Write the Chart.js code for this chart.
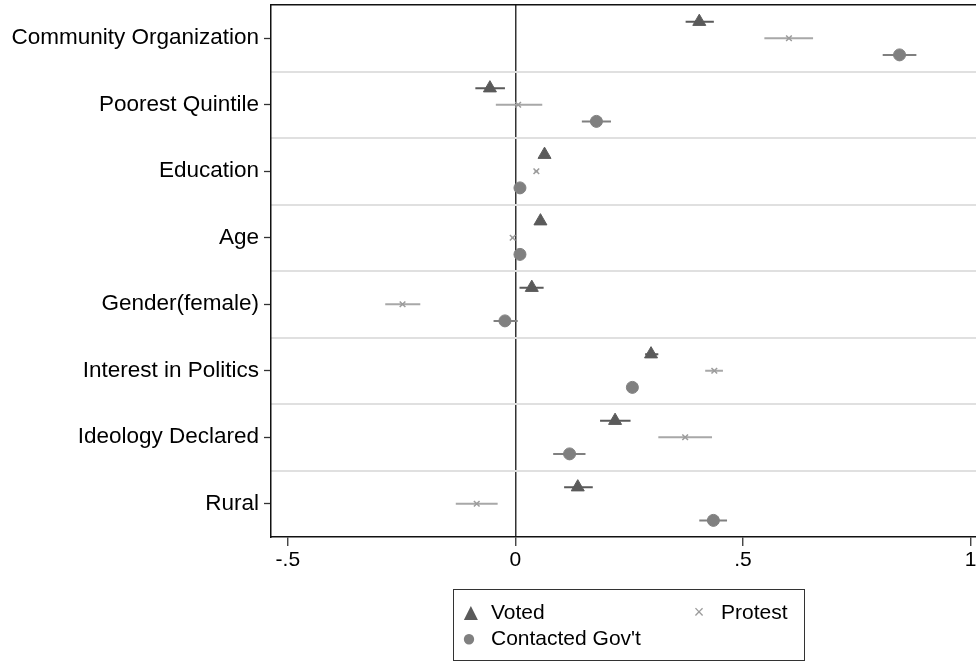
<!DOCTYPE html>
<html>
<head>
<meta charset="utf-8">
<script src="https://cdn.jsdelivr.net/npm/chart.js@4.4.1/dist/chart.umd.min.js"></script>
<style>
  html, body { margin: 0; padding: 0; background: #fff; }
  #wrap { position: relative; width: 976px; height: 664px; }
  #legend {
    position: absolute; left: 453px; top: 589px; width: 352px; height: 72px;
    border: 1px solid #333; box-sizing: border-box;
    font-family: "Liberation Sans", Arial, Helvetica, sans-serif; font-size: 21px; color: #000;
  }
  #legend .item { position: absolute; white-space: nowrap; line-height: 24px; }
  #legend .sym { display: inline-block; width: 20px; text-align: center; margin-right: 12px; vertical-align: top; }
</style>
</head>
<body>
<div id="wrap">
  <canvas id="coefplot" width="976" height="664"></canvas>
  <div id="legend"></div>
</div>
<script>
var categories = ["Community Organization", "Poorest Quintile", "Education", "Age",
	"Gender(female)", "Interest in Politics", "Ideology Declared", "Rural"];

// Voted
var votedCoef = [0.404, -0.056, 0.064, 0.055, 0.036, 0.298, 0.219, 0.137];
var votedLo   = [0.374, -0.088, 0.060, 0.052, 0.009, 0.285, 0.186, 0.107];
var votedHi   = [0.436, -0.023, 0.068, 0.058, 0.062, 0.314, 0.253, 0.170];

// Protest
var protestCoef = [0.601, 0.006, 0.046, -0.006, -0.248, 0.437, 0.373, -0.085];
var protestLo   = [0.547, -0.043, 0.042, -0.009, -0.286, 0.417, 0.314, -0.131];
var protestHi   = [0.654, 0.059, 0.050, -0.003, -0.209, 0.456, 0.432, -0.039];

// Contacted Gov't
var contactCoef = [0.844, 0.178, 0.010, 0.010, -0.023, 0.257, 0.119, 0.435];
var contactLo   = [0.807, 0.146, 0.007, 0.007, -0.048, 0.250, 0.083, 0.404];
var contactHi   = [0.881, 0.210, 0.013, 0.013, 0.005, 0.264, 0.154, 0.465];

var xTicks = [-0.5, 0, 0.5, 1];
var xTickLabels = ["-.5", "0", ".5", "1"];

var series = [
	{ label: "Voted", coef: votedCoef, lo: votedLo, hi: votedHi, shift: -0.25,
	  style: "triangle", radius: 7.5, color: "#5a5a5a", ciColor: "#5a5a5a", sym: "\u25B2", symSize: 24 },
	{ label: "Protest", coef: protestCoef, lo: protestLo, hi: protestHi, shift: 0,
	  style: "crossRot", radius: 4, color: "#9c9c9c", ciColor: "#a8a8a8", sym: "\u00D7", symSize: 18 },
	{ label: "Contacted Gov't", coef: contactCoef, lo: contactLo, hi: contactHi, shift: 0.25,
	  style: "circle", radius: 6, color: "#808080", ciColor: "#808080", sym: "\u25CF", symSize: 24 }
];

var fontFamily = "'Liberation Sans', Arial, Helvetica, sans-serif";

var datasets = [];
series.forEach(function (s) {
	var ci = [];
	var pts = [];
	for (var i = 0; i < categories.length; i++) {
		ci.push({ x: s.lo[i], y: i + s.shift });
		ci.push({ x: s.hi[i], y: i + s.shift });
		ci.push({ x: null, y: null });
		pts.push({ x: s.coef[i], y: i + s.shift });
	}
	datasets.push({
		type: "line", label: s.label + " CI", data: ci,
		borderColor: s.ciColor, borderWidth: 2, pointRadius: 0,
		spanGaps: false, fill: false, order: 2
	});
	datasets.push({
		type: "scatter", label: s.label, data: pts,
		pointStyle: s.style, pointRadius: s.radius,
		backgroundColor: s.color, borderColor: s.color,
		borderWidth: s.style === "crossRot" ? 1.5 : 1, order: 1
	});
});

var ctx = document.getElementById("coefplot").getContext("2d");
var chart = new Chart(ctx, {
	data: { datasets: datasets },
	options: {
		responsive: false,
		animation: false,
		layout: { autoPadding: false, padding: { left: 0, right: 0, top: 5, bottom: 87 } },
		plugins: { legend: { display: false }, tooltip: { enabled: false } },
		scales: {
			x: {
				type: "linear", position: "bottom", min: -0.537, max: 1.012,
				afterBuildTicks: function (axis) {
					axis.ticks = xTicks.map(function (v) { return { value: v }; });
				},
				afterFit: function (axis) { axis.height = 40; axis.paddingLeft = 0; axis.paddingRight = 0; },
				ticks: {
					autoSkip: false, maxRotation: 0, padding: 2, color: "#000",
					font: { family: fontFamily, size: 21 },
					callback: function (v) { return xTickLabels[xTicks.indexOf(v)]; }
				},
				grid: {
					color: function (c) { return c.tick && c.tick.value === 0 ? "#333" : "rgba(0,0,0,0)"; },
					lineWidth: 1.5, tickLength: 9, tickColor: "#333", tickWidth: 1.3
				},
				border: { color: "#111", width: 1.5 }
			},
			xTop: {
				type: "linear", position: "top", min: -0.537, max: 1.012,
				ticks: { display: false },
				grid: { display: false, drawTicks: false },
				border: { color: "#111", width: 1.5 },
				afterFit: function (axis) { axis.height = 0; axis.paddingLeft = 0; axis.paddingRight = 0; }
			},
			y: {
				type: "linear", position: "left", min: -0.5, max: 7.5, reverse: true,
				afterBuildTicks: function (axis) {
					axis.ticks = categories.map(function (c, i) { return { value: i }; });
				},
				afterFit: function (axis) { axis.width = 271; axis.paddingTop = 0; axis.paddingBottom = 0; },
				ticks: {
					autoSkip: false, padding: 5, color: "#000",
					font: { family: fontFamily, size: 22.5 },
					callback: function (v) { return categories[v]; }
				},
				grid: { drawOnChartArea: false, tickLength: 7, tickColor: "#333", tickWidth: 1.3 },
				border: { color: "#111", width: 1.5 }
			},
			yBands: {
				type: "linear", position: "right", min: -0.5, max: 7.5, reverse: true,
				afterBuildTicks: function (axis) {
					var t = [];
					for (var i = 0; i < categories.length - 1; i++) t.push({ value: i + 0.5 });
					axis.ticks = t;
				},
				afterFit: function (axis) { axis.width = 0; axis.paddingTop = 0; axis.paddingBottom = 0; },
				ticks: { display: false },
				grid: { color: "#e0e0e0", lineWidth: 2, drawTicks: false },
				border: { display: false }
			}
		}
	}
});

// legend box, two columns like the original
var legendPos = [
	{ left: 5, top: 10 },
	{ left: 235, top: 10 },
	{ left: 5, top: 36 }
];
var legendDiv = document.getElementById("legend");
series.forEach(function (s, i) {
	var item = document.createElement("div");
	item.className = "item";
	item.style.left = legendPos[i].left + "px";
	item.style.top = legendPos[i].top + "px";
	var sym = document.createElement("span");
	sym.className = "sym";
	sym.style.color = s.color;
	sym.style.fontSize = s.symSize + "px";
	sym.style.lineHeight = "24px";
	sym.textContent = s.sym;
	item.appendChild(sym);
	item.appendChild(document.createTextNode(s.label));
	legendDiv.appendChild(item);
});
</script>
</body>
</html>
